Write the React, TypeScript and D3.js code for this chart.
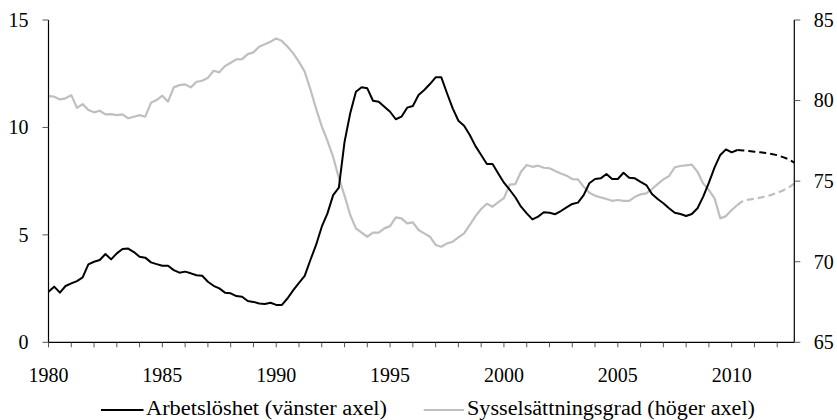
import React from "react";
import * as d3 from "d3";

// Quarterly data, 1980Q1 .. 2010Q2 (outcome) and 2010Q2 .. 2012Q4 (forecast)
const unemployment: number[] = [
  2.35, 2.59, 2.31, 2.62, 2.74, 2.85, 3.02, 3.63, 3.75, 3.83,
  4.11, 3.86, 4.14, 4.34, 4.36, 4.2, 3.98, 3.94, 3.72, 3.64,
  3.56, 3.56, 3.36, 3.24, 3.29, 3.21, 3.12, 3.1, 2.82, 2.63,
  2.51, 2.31, 2.28, 2.15, 2.12, 1.92, 1.88, 1.81, 1.78, 1.84,
  1.74, 1.74, 2.05, 2.43, 2.77, 3.09, 3.83, 4.53, 5.38, 6.0,
  6.85, 7.2, 9.33, 10.66, 11.66, 11.87, 11.82, 11.24, 11.2, 10.96,
  10.73, 10.38, 10.5, 10.92, 11.0, 11.51, 11.74, 12.02, 12.33, 12.33,
  11.59, 10.89, 10.31, 10.08, 9.65, 9.13, 8.72, 8.3, 8.3, 7.86,
  7.43, 7.1, 6.75, 6.31, 6.0, 5.72, 5.85, 6.05, 6.03, 5.96,
  6.11, 6.28, 6.44, 6.5, 6.85, 7.4, 7.6, 7.63, 7.83, 7.6,
  7.6, 7.89, 7.66, 7.63, 7.47, 7.32, 6.9, 6.67, 6.47, 6.24,
  6.03, 5.97, 5.88, 5.97, 6.24, 6.78, 7.43, 8.14, 8.72, 8.98,
  8.84, 8.95,
];
const unemploymentForecast: number[] = [
  8.95, 8.93, 8.9, 8.87, 8.84, 8.81, 8.76, 8.71, 8.62, 8.52, 8.36,
];

const employment: number[] = [
  80.28, 80.24, 80.07, 80.14, 80.34, 79.55, 79.78, 79.41, 79.27, 79.37,
  79.14, 79.16, 79.1, 79.14, 78.9, 79.0, 79.1, 79.0, 79.86, 80.03,
  80.3, 79.93, 80.82, 80.96, 81.0, 80.82, 81.17, 81.23, 81.41, 81.85,
  81.75, 82.14, 82.35, 82.56, 82.57, 82.88, 82.99, 83.34, 83.49, 83.65,
  83.86, 83.69, 83.34, 82.93, 82.4, 81.8, 80.7, 79.5, 78.4, 77.5,
  76.5, 75.2, 74.1, 72.9, 72.07, 71.8, 71.55, 71.8, 71.8, 72.07,
  72.21, 72.75, 72.69, 72.38, 72.44, 71.97, 71.76, 71.55, 71.04, 70.93,
  71.14, 71.24, 71.51, 71.76, 72.28, 72.83, 73.27, 73.6, 73.41, 73.7,
  73.95, 74.78, 74.82, 75.58, 76.0, 75.89, 75.96, 75.83, 75.8, 75.63,
  75.48, 75.34, 75.13, 75.11, 74.65, 74.28, 74.1, 73.99, 73.89, 73.78,
  73.83, 73.78, 73.78, 74.03, 74.18, 74.24, 74.51, 74.82, 75.11, 75.32,
  75.86, 75.94, 75.98, 76.02, 75.58, 74.86, 74.45, 73.93, 72.69, 72.83,
  73.21, 73.52,
];
const employmentForecast: number[] = [
  73.52, 73.78, 73.85, 73.9, 73.98, 74.05, 74.15, 74.28, 74.42, 74.6, 74.85,
];

const startYear = 1980;
const yearLabels: number[] = [1980, 1985, 1990, 1995, 2000, 2005, 2010];
const leftTicks: number[] = [0, 5, 10, 15];
const rightTicks: number[] = [65, 70, 75, 80, 85];
const legendLabels: string[] = [
  "Arbetslöshet (vänster axel)",
  "Sysselsättningsgrad (höger axel)",
];

const W = 837;
const H = 420;
const FONT = "Liberation Serif";

export default function App() {
  const nQuarters = unemployment.length + unemploymentForecast.length - 1; // 132
  const x = d3.scaleLinear().domain([0, nQuarters - 1]).range([48.5, 794.3]);
  const yL = d3.scaleLinear().domain([0, 15]).range([342.3, 20]);
  const yR = d3.scaleLinear().domain([65, 85]).range([342.3, 20]);

  const lineL = d3
    .line<[number, number]>()
    .x((d) => x(d[0]))
    .y((d) => yL(d[1]));
  const lineR = d3
    .line<[number, number]>()
    .x((d) => x(d[0]))
    .y((d) => yR(d[1]));

  const offF = unemployment.length - 1;
  const uAct = unemployment.map((v, i) => [i, v] as [number, number]);
  const uFc = unemploymentForecast.map((v, i) => [offF + i, v] as [number, number]);
  const eAct = employment.map((v, i) => [i, v] as [number, number]);
  const eFc = employmentForecast.map((v, i) => [offF + i, v] as [number, number]);

  const yearTicks = d3.range(0, nQuarters, 4);
  const x0 = x(0);
  const x1 = x(nQuarters - 1);
  const yBase = yL(0);

  const gray = "#bfbfbf";

  return (
    <svg
      width={W}
      height={H}
      style={{ position: "absolute", left: 0, top: 0, background: "#fff" }}
    >
      <rect x={0} y={0} width={W} height={H} fill="#fff" />

      {/* series */}
      <path d={lineR(eAct) || ""} fill="none" stroke={gray} strokeWidth={2.2} strokeLinejoin="round" />
      <path d={lineR(eFc) || ""} fill="none" stroke={gray} strokeWidth={2.2} strokeDasharray="7,4" />
      <path d={lineL(uAct) || ""} fill="none" stroke="#000" strokeWidth={2} strokeLinejoin="round" />
      <path d={lineL(uFc) || ""} fill="none" stroke="#000" strokeWidth={2} strokeDasharray="7,4" />

      {/* axes */}
      <line x1={x0} x2={x0} y1={yL(15)} y2={yBase} stroke="#000" strokeWidth={1.2} />
      <line x1={x1} x2={x1} y1={yR(85)} y2={yBase} stroke="#000" strokeWidth={1.2} />
      <line x1={x0} x2={x1} y1={yBase} y2={yBase} stroke="#000" strokeWidth={1.2} />

      {yearTicks.map((q) => (
        <line key={"xt" + q} x1={x(q)} x2={x(q)} y1={yBase} y2={yBase + 5} stroke="#444" strokeWidth={0.9} />
      ))}
      {leftTicks.map((v) => (
        <line key={"lt" + v} x1={x0 - 6} x2={x0} y1={yL(v)} y2={yL(v)} stroke="#444" strokeWidth={0.9} />
      ))}
      {leftTicks.map((v) => (
        <text key={"ll" + v} x={28.5} y={yL(v) + 6.8} textAnchor="end" fontFamily={FONT} fontSize={20}>
          {v}
        </text>
      ))}
      {rightTicks.map((v) => (
        <line key={"rt" + v} x1={x1} x2={x1 + 6} y1={yR(v)} y2={yR(v)} stroke="#444" strokeWidth={0.9} />
      ))}
      {rightTicks.map((v) => (
        <text key={"rl" + v} x={813.7} y={yR(v) + 6.8} fontFamily={FONT} fontSize={20}>
          {String(v)}
        </text>
      ))}
      {yearLabels.map((yr) => (
        <text key={"xl" + yr} x={x((yr - startYear) * 4)} y={381.5} textAnchor="middle" fontFamily={FONT} fontSize={20}>
          {String(yr)}
        </text>
      ))}

      {/* legend */}
      <line x1={101} x2={143.5} y1={410} y2={410} stroke="#000" strokeWidth={2} />
      <text x={146} y={414.5} fontFamily={FONT} fontSize={20} textLength={241} lengthAdjust="spacingAndGlyphs">
        {legendLabels[0]}
      </text>
      <line x1={423.7} x2={464} y1={410} y2={410} stroke={gray} strokeWidth={2.2} />
      <text x={467} y={414.5} fontFamily={FONT} fontSize={20} textLength={288} lengthAdjust="spacingAndGlyphs">
        {legendLabels[1]}
      </text>
    </svg>
  );
}
